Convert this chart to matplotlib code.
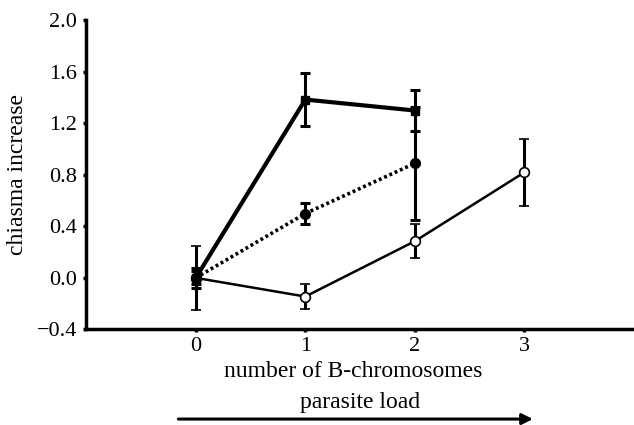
import matplotlib
matplotlib.use("Agg")
import matplotlib.pyplot as plt

# data
x_sq = [0, 1, 2]
y_sq = [0.0, 1.385, 1.30]
e_sq = [0.08, 0.205, 0.16]

x_dot = [0, 1, 2]
y_dot = [0.0, 0.50, 0.89]
e_dot = [0.05, 0.085, 0.44]

x_open = [0, 1, 2, 3]
y_open = [0.0, -0.145, 0.285, 0.82]
e_open = [0.25, 0.10, 0.13, 0.26]

xticks = [0, 1, 2, 3]
yticks = [-0.4, 0.0, 0.4, 0.8, 1.2, 1.6, 2.0]

plt.rcParams['font.family'] = ['Liberation Serif', 'DejaVu Serif']

fig = plt.figure(figsize=(6.34, 4.25), dpi=100)
ax = fig.add_axes([0.136, 0.225, 0.864, 0.727])

# open circles, thin solid
ax.errorbar(x_open, y_open, yerr=e_open, color='black', lw=1.8, elinewidth=2.2,
            capsize=3.5, capthick=2.2, marker='o', ms=7, mfc='white', mec='black',
            mew=1.2, zorder=3)
# filled circles, dotted
ax.errorbar(x_dot, y_dot, yerr=e_dot, color='black', lw=2.6, ls=(0, (0.8, 0.8)),
            elinewidth=2.2, capsize=3.5, capthick=2.2, marker='o', ms=7,
            mfc='black', mec='black', zorder=4)
# squares, thick solid
ax.errorbar(x_sq, y_sq, yerr=e_sq, color='black', lw=3.0, elinewidth=2.2,
            capsize=3.5, capthick=2.2, marker='s', ms=6, mfc='black', mec='black',
            zorder=5)

ax.set_xlim(-1, 4)
ax.set_ylim(-0.4, 2.0)
ax.set_xticks(xticks)
ax.set_xticklabels([str(v) for v in xticks])
ax.set_yticks(yticks)
ax.set_yticklabels(['\u22120.4' if v < 0 else f'{v:.1f}' for v in yticks])

for s in ['top', 'right']:
    ax.spines[s].set_visible(False)
for s in ['left', 'bottom']:
    ax.spines[s].set_linewidth(2.5)
ax.tick_params(axis='both', direction='out', length=2.5, width=2.5, labelsize=16, pad=3)
ax.tick_params(axis='y', pad=4)

ax.set_xlabel('number of B-chromosomes', fontsize=17)
ax.xaxis.set_label_coords(0.487, -0.135)
ax.xaxis.label.set_va('center')
ax.set_ylabel('chiasma increase', fontsize=17)
ax.yaxis.set_label_coords(-0.125, 0.5)
ax.yaxis.label.set_va('center')

fig.text(0.568, 0.054, 'parasite load', fontsize=17, ha='center', va='center')
ax.annotate('', xy=(0.845, 0.014), xytext=(0.277, 0.014), xycoords='figure fraction',
            arrowprops=dict(arrowstyle='-|>', color='black', lw=2.2, mutation_scale=16))

fig.savefig('out.png', dpi=100)
